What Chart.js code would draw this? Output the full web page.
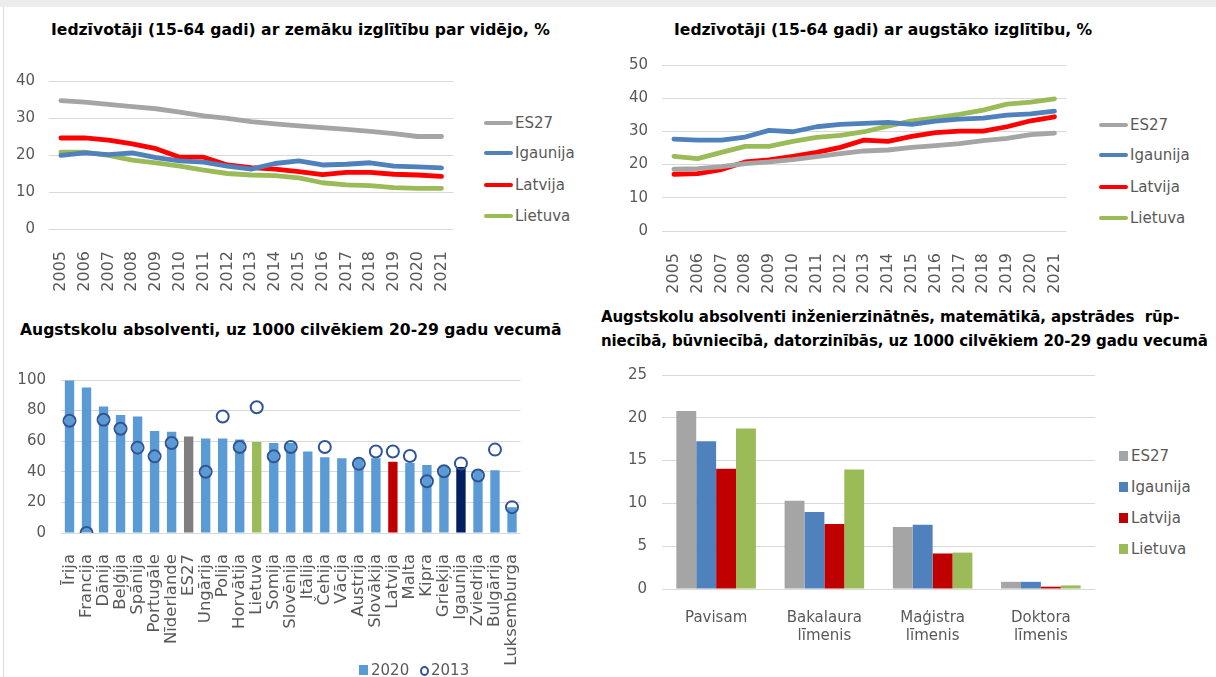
<!DOCTYPE html>
<html>
<head>
<meta charset="utf-8">
<script src="https://cdn.jsdelivr.net/npm/chart.js@4/dist/chart.umd.min.js"></script>
<style>
  html, body { margin: 0; padding: 0; background: #fff; }
  #page { position: relative; width: 1216px; height: 677px; overflow: hidden; font-family: "DejaVu Sans", Verdana, sans-serif; }
  #topband { position: absolute; left: 0; top: 0; width: 1216px; height: 7px; background: #ececec; }
  #leftline { position: absolute; left: 3px; top: 7px; width: 1px; height: 670px; background: #dcdcdc; }
  .title { position: absolute; font-weight: bold; font-size: 15.6px; line-height: 18px; color: #000; white-space: pre; }
  .title.narrow { font-size: 15px; letter-spacing: -0.1px; }
  canvas { position: absolute; }
  .leg { position: absolute; font-size: 15px; line-height: 18px; color: #595959; white-space: nowrap; }
  .leg i { position: absolute; display: block; }
</style>
</head>
<body>
<div id="page">
  <div id="topband"></div>
  <div id="leftline"></div>
  <div class="title" style="left:51px; top:21px;">Iedzīvotāji (15-64 gadi) ar zemāku izglītību par vidējo, %</div>
  <div class="title" style="left:674px; top:21px;">Iedzīvotāji (15-64 gadi) ar augstāko izglītību, %</div>
  <div class="title" style="left:20px; top:321px;">Augstskolu absolventi, uz 1000 cilvēkiem 20-29 gadu vecumā</div>
  <div class="title narrow" style="left:601px; top:308px;">Augstskolu absolventi inženierzinātnēs, matemātikā, apstrādes  rūp-</div>
  <div class="title narrow" style="left:601px; top:332px;">niecībā, būvniecībā, datorzinībās, uz 1000 cilvēkiem 20-29 gadu vecumā</div>
</div>
<script>
// ---------- data ----------
const years = ["2005","2006","2007","2008","2009","2010","2011","2012","2013","2014","2015","2016","2017","2018","2019","2020","2021"];
const seriesNames = ["ES27", "Igaunija", "Latvija", "Lietuva"];

// below upper-secondary education, %
const lowES27 = [34.7,34.3,33.7,33.1,32.5,31.6,30.6,29.9,29.0,28.4,27.9,27.4,26.9,26.4,25.8,25.0,25.0];
const lowEE   = [19.9,20.6,20.1,20.6,19.3,18.4,18.1,17.0,16.2,17.7,18.4,17.3,17.5,17.9,17.0,16.8,16.5];
const lowLV   = [24.6,24.6,24.0,23.0,21.7,19.4,19.4,17.3,16.6,16.2,15.5,14.7,15.3,15.3,14.8,14.6,14.2];
const lowLT   = [20.8,20.8,19.9,18.6,17.9,17.0,15.9,15.0,14.6,14.4,13.8,12.5,11.9,11.7,11.2,11.0,11.0];

// tertiary education, %
const highES27 = [18.6,18.8,19.4,20.3,20.8,21.5,22.4,23.3,24.1,24.4,25.2,25.7,26.3,27.2,27.9,29.0,29.5];
const highEE   = [27.7,27.4,27.4,28.3,30.3,29.9,31.4,32.1,32.4,32.7,32.1,33.1,33.7,34.0,34.9,35.3,36.1];
const highLV   = [17.1,17.3,18.5,20.8,21.4,22.5,23.7,25.2,27.4,27.0,28.5,29.6,30.1,30.1,31.4,33.2,34.4];
const highLT   = [22.5,21.8,23.7,25.5,25.5,27.0,28.2,28.8,29.9,31.6,33.2,34.1,35.1,36.4,38.2,38.8,39.8];

// graduates per 1000 aged 20-29
const countries = ["Īrija","Francija","Dānija","Beļģija","Spānija","Portugāle","Nīderlande","ES27","Ungārija","Polija","Horvātija","Lietuva","Somija","Slovēnija","Itālija","Čehija","Vācija","Austrija","Slovākija","Latvija","Malta","Kipra","Grieķija","Igaunija","Zviedrija","Bulgārija","Luksemburga"];
const grad2020 = [99.6,95.1,82.7,77.2,76.1,66.6,66.2,63.0,61.7,61.7,61.1,59.4,58.8,58.8,53.3,49.5,48.8,48.8,48.8,46.5,45.7,44.4,43.8,43.1,41.4,41.0,16.9];
const grad2013 = [73.4,0,74.0,68.1,55.8,50.1,58.8,null,40.0,76.1,56.2,82.2,50.1,56.2,null,56.2,null,45.2,53.3,53.3,50.3,33.8,40.4,45.5,37.6,54.5,16.9];

// STEM graduates per 1000 aged 20-29
const levels = [["Pavisam"], ["Bakalaura", "līmenis"], ["Maģistra", "līmenis"], ["Doktora", "līmenis"]];
const stemES27 = [20.8, 10.3, 7.25, 0.84];
const stemEE   = [17.25, 9.0, 7.5, 0.84];
const stemLV   = [14.05, 7.6, 4.15, 0.27];
const stemLT   = [18.75, 13.95, 4.25, 0.42];

// ---------- helpers ----------
const GRID = "#d9d9d9";
const TXT = "#595959";
const lineColors = ["#a5a5a5", "#4f81bd", "#ff0000", "#9bbb59"];
const barColors  = ["#a5a5a5", "#4f81bd", "#c00000", "#9bbb59"];
const countryColor = { "ES27": "#7f7f7f", "Lietuva": "#9bbb59", "Latvija": "#c00000", "Igaunija": "#002060" };

Chart.defaults.font.family = '"DejaVu Sans", Verdana, sans-serif';
Chart.defaults.color = TXT;
Chart.defaults.animation = false;

const page = document.getElementById("page");

function addCanvas(left, top, w, h) {
  const c = document.createElement("canvas");
  c.width = w; c.height = h;
  c.style.left = left + "px"; c.style.top = top + "px";
  c.style.width = w + "px"; c.style.height = h + "px";
  page.appendChild(c);
  return c;
}

function addLegend(items, x, ys, kind) {
  items.forEach((it, i) => {
    const d = document.createElement("div");
    d.className = "leg";
    d.style.left = x + "px";
    d.style.top = (ys[i] - 9) + "px";
    const mark = document.createElement("i");
    if (kind === "line") {
      Object.assign(mark.style, { left: "-31px", top: "7px", width: "29px", height: "4px", borderRadius: "2px", background: it.color });
    } else if (kind === "box") {
      Object.assign(mark.style, { left: "-12px", top: "4px", width: "9px", height: "10px", background: it.color });
    } else {
      Object.assign(mark.style, { left: "-11px", top: "5px", width: "5px", height: "6px", borderRadius: "50%", border: "2px solid " + it.color });
    }
    d.appendChild(mark);
    d.appendChild(document.createTextNode(it.label));
    page.appendChild(d);
  });
}

const fixW = (w) => (s) => { s.width = w; };
const fixH = (h) => (s) => { s.height = h; };

function lineChart(canvas, data, max, step) {
  new Chart(canvas, {
    type: "line",
    data: {
      labels: years,
      datasets: seriesNames.map((n, i) => ({
        label: n, data: data[i], borderColor: lineColors[i], backgroundColor: lineColors[i],
        borderWidth: 4.8, pointRadius: 0, tension: 0, borderJoinStyle: "round", borderCapStyle: "round",
      })),
    },
    options: {
      responsive: false,
      layout: { padding: { top: 20, right: 10, left: 0, bottom: 0 } },
      plugins: { legend: { display: false }, tooltip: { enabled: false } },
      scales: {
        x: {
          offset: true,
          grid: { display: false }, border: { display: false },
          ticks: { autoSkip: false, minRotation: 90, maxRotation: 90, padding: 14, font: { size: 16 } },
          afterFit: fixH(70),
        },
        y: {
          min: 0, max: max,
          grid: { color: GRID, drawTicks: false }, border: { display: false },
          ticks: { stepSize: step, padding: 14, font: { size: 15 } },
          afterFit: fixW(44),
        },
      },
    },
  });
}

// ---------- top-left: lower than secondary ----------
lineChart(addCanvas(5, 58, 470, 241), [lowES27, lowEE, lowLV, lowLT], 40, 10);
addLegend(seriesNames.map((n, i) => ({ label: n, color: lineColors[i] })), 515, [123, 153, 185, 216], "line");

// ---------- top-right: tertiary ----------
lineChart(addCanvas(618, 42, 470, 259), [highES27, highEE, highLV, highLT], 50, 10);
addLegend(seriesNames.map((n, i) => ({ label: n, color: lineColors[i] })), 1130, [125, 155, 187, 218], "line");

// ---------- bottom-left: graduates by country ----------
new Chart(addCanvas(17, 356, 528, 317), {
  type: "bar",
  data: {
    labels: countries,
    datasets: [
      {
        type: "line", label: "2013", data: grad2013, showLine: false,
        pointStyle: "circle", pointRadius: 6, pointBorderWidth: 2,
        pointBackgroundColor: "rgba(0,0,0,0)", pointBorderColor: "#2f5597", order: 1,
      },
      {
        type: "bar", label: "2020", data: grad2020,
        backgroundColor: countries.map(c => countryColor[c] || "#5b9bd5"),
        barPercentage: 0.55, categoryPercentage: 1, order: 2,
      },
    ],
  },
  options: {
    responsive: false,
    layout: { padding: { top: 20, right: 10, left: 0, bottom: 0 } },
    plugins: { legend: { display: false }, tooltip: { enabled: false } },
    scales: {
      x: {
        grid: { display: false }, border: { display: false },
        ticks: { autoSkip: false, minRotation: 90, maxRotation: 90, padding: 13, font: { size: 16.5 } },
        afterFit: fixH(140),
      },
      y: {
        min: 0, max: 100,
        grid: { color: GRID, drawTicks: false }, border: { display: false },
        ticks: { stepSize: 20, padding: 15, font: { size: 15 } },
        afterFit: fixW(44),
      },
    },
  },
});
addLegend([{ label: "2020", color: "#5b9bd5" }], 371, [670], "box");
addLegend([{ label: "2013", color: "#2f5597" }], 431, [670], "ring");

// ---------- bottom-right: STEM graduates ----------
new Chart(addCanvas(618, 351, 487, 298), {
  type: "bar",
  data: {
    labels: levels,
    datasets: seriesNames.map((n, i) => ({
      label: n, data: [stemES27, stemEE, stemLV, stemLT][i], backgroundColor: barColors[i],
      barPercentage: 1, categoryPercentage: 0.735,
    })),
  },
  options: {
    responsive: false,
    layout: { padding: { top: 20, right: 10, left: 0, bottom: 0 } },
    plugins: { legend: { display: false }, tooltip: { enabled: false } },
    scales: {
      x: {
        grid: { display: false }, border: { display: false },
        ticks: { autoSkip: false, maxRotation: 0, padding: 12, font: { size: 15 } },
        afterFit: fixH(60),
      },
      y: {
        min: 0, max: 25,
        grid: { color: GRID, drawTicks: false }, border: { display: false },
        ticks: { stepSize: 5, padding: 15, font: { size: 15 } },
        afterFit: fixW(44),
      },
    },
  },
});
addLegend(seriesNames.map((n, i) => ({ label: n, color: barColors[i] })), 1131, [456, 487, 518, 549], "box");
</script>
</body>
</html>
